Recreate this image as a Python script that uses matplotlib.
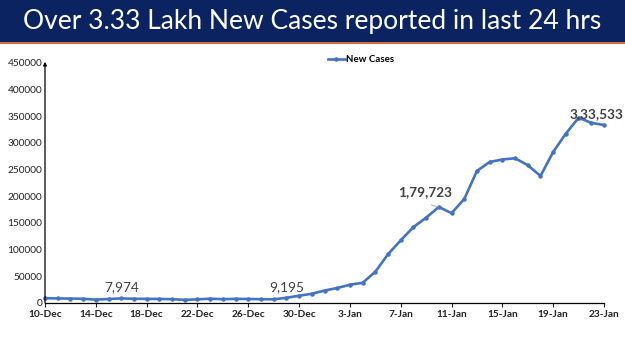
import matplotlib

matplotlib.use("Agg")
import matplotlib.pyplot as plt
from matplotlib.patches import Rectangle

plt.rcParams["font.family"] = ["Lato", "DejaVu Sans"]

# daily new cases, 10-Dec .. 23-Jan
dates = [
    "10-Dec", "11-Dec", "12-Dec", "13-Dec", "14-Dec", "15-Dec", "16-Dec", "17-Dec",
    "18-Dec", "19-Dec", "20-Dec", "21-Dec", "22-Dec", "23-Dec", "24-Dec", "25-Dec",
    "26-Dec", "27-Dec", "28-Dec", "29-Dec", "30-Dec", "31-Dec", "1-Jan", "2-Jan",
    "3-Jan", "4-Jan", "5-Jan", "6-Jan", "7-Jan", "8-Jan", "9-Jan", "10-Jan",
    "11-Jan", "12-Jan", "13-Jan", "14-Jan", "15-Jan", "16-Jan", "17-Jan", "18-Jan",
    "19-Jan", "20-Jan", "21-Jan", "22-Jan", "23-Jan",
]
new_cases = [
    8503, 7992, 7774, 7350, 5784, 6984, 7974, 7447,
    7145, 7081, 6563, 5326, 6317, 7495, 6650, 7189,
    6987, 6531, 6358, 9195, 13154, 16764, 22775, 27553,
    33750, 37379, 58097, 90928, 117100, 141986, 159632, 179723,
    168063, 194720, 247417, 264202, 268833, 271202, 258089, 238018,
    282970, 317532, 347254, 337704, 333533,
]
labelled = {"7,974": 6, "9,195": 19, "1,79,723": 31, "3,33,533": 44}
title = "Over 3.33 Lakh New Cases reported in last 24 hrs"

fig = plt.figure(figsize=(6.25, 3.51), dpi=100)
fig.patch.set_facecolor("white")

# banner
fig.patches.append(Rectangle((0, 1 - 42 / 351), 1, 42 / 351, transform=fig.transFigure,
                             facecolor="#0b2361", edgecolor="none", zorder=0))
fig.patches.append(Rectangle((0, 1 - 44 / 351), 1, 2 / 351, transform=fig.transFigure,
                             facecolor="#d4683a", edgecolor="none", zorder=0))
fig.text(0.5, 1 - 21 / 351, title, color="white", fontsize=19, ha="center", va="center")

ax = fig.add_axes([45 / 625, 1 - 302.7 / 351, (604 - 45) / 625, (302.7 - 63) / 351])
x = list(range(len(dates)))
line, = ax.plot(x, new_cases, color="#4472c4", lw=1.9, marker="o", ms=2.2,
                label="New Cases", clip_on=False, zorder=3)

ax.set_xlim(0, len(dates) - 1)
ax.set_ylim(0, 450000)
ax.set_yticks(range(0, 450001, 50000))
ax.set_yticklabels([str(v) for v in range(0, 450001, 50000)])
ax.set_xticks(x[::4])
ax.set_xticklabels(dates[::4], fontweight="bold")
ax.tick_params(axis="y", length=0, labelsize=7.3, pad=2, colors="#222222")
ax.tick_params(axis="x", length=3, width=0.8, labelsize=7.3, pad=2, colors="#222222",
               direction="out")
for side in ["top", "right", "left"]:
    ax.spines[side].set_visible(False)
ax.spines["bottom"].set_linewidth(0.9)
ax.annotate("", xy=(0, 1.005), xytext=(0, 0), xycoords="axes fraction",
            arrowprops=dict(arrowstyle="-|>", lw=0.9, color="black",
                            mutation_scale=5, shrinkA=0, shrinkB=0))

offsets = {"7,974": (0, 5), "9,195": (0, 5), "1,79,723": (-14, 9), "3,33,533": (-7, 5)}
for text, i in labelled.items():
    bold = text in ("1,79,723", "3,33,533")
    ax.annotate(text, (i, new_cases[i]), xytext=offsets[text], textcoords="offset pixels",
                ha="center", va="bottom", fontsize=9.8, color="#404040",
                fontweight="bold" if bold else "normal", annotation_clip=False)
ax.annotate("", xy=(31, new_cases[31]), xytext=(30.4, 183500),
            arrowprops=dict(arrowstyle="-", color="#a0a0a0", lw=0.6, shrinkA=0, shrinkB=0))

ax.legend(handles=[line], loc="center", bbox_to_anchor=(0.565, 1.013), frameon=False,
          handlelength=1.8, handletextpad=0.1, borderaxespad=0,
          prop={"weight": "bold", "size": 7})

fig.savefig("out.png", dpi=100)
